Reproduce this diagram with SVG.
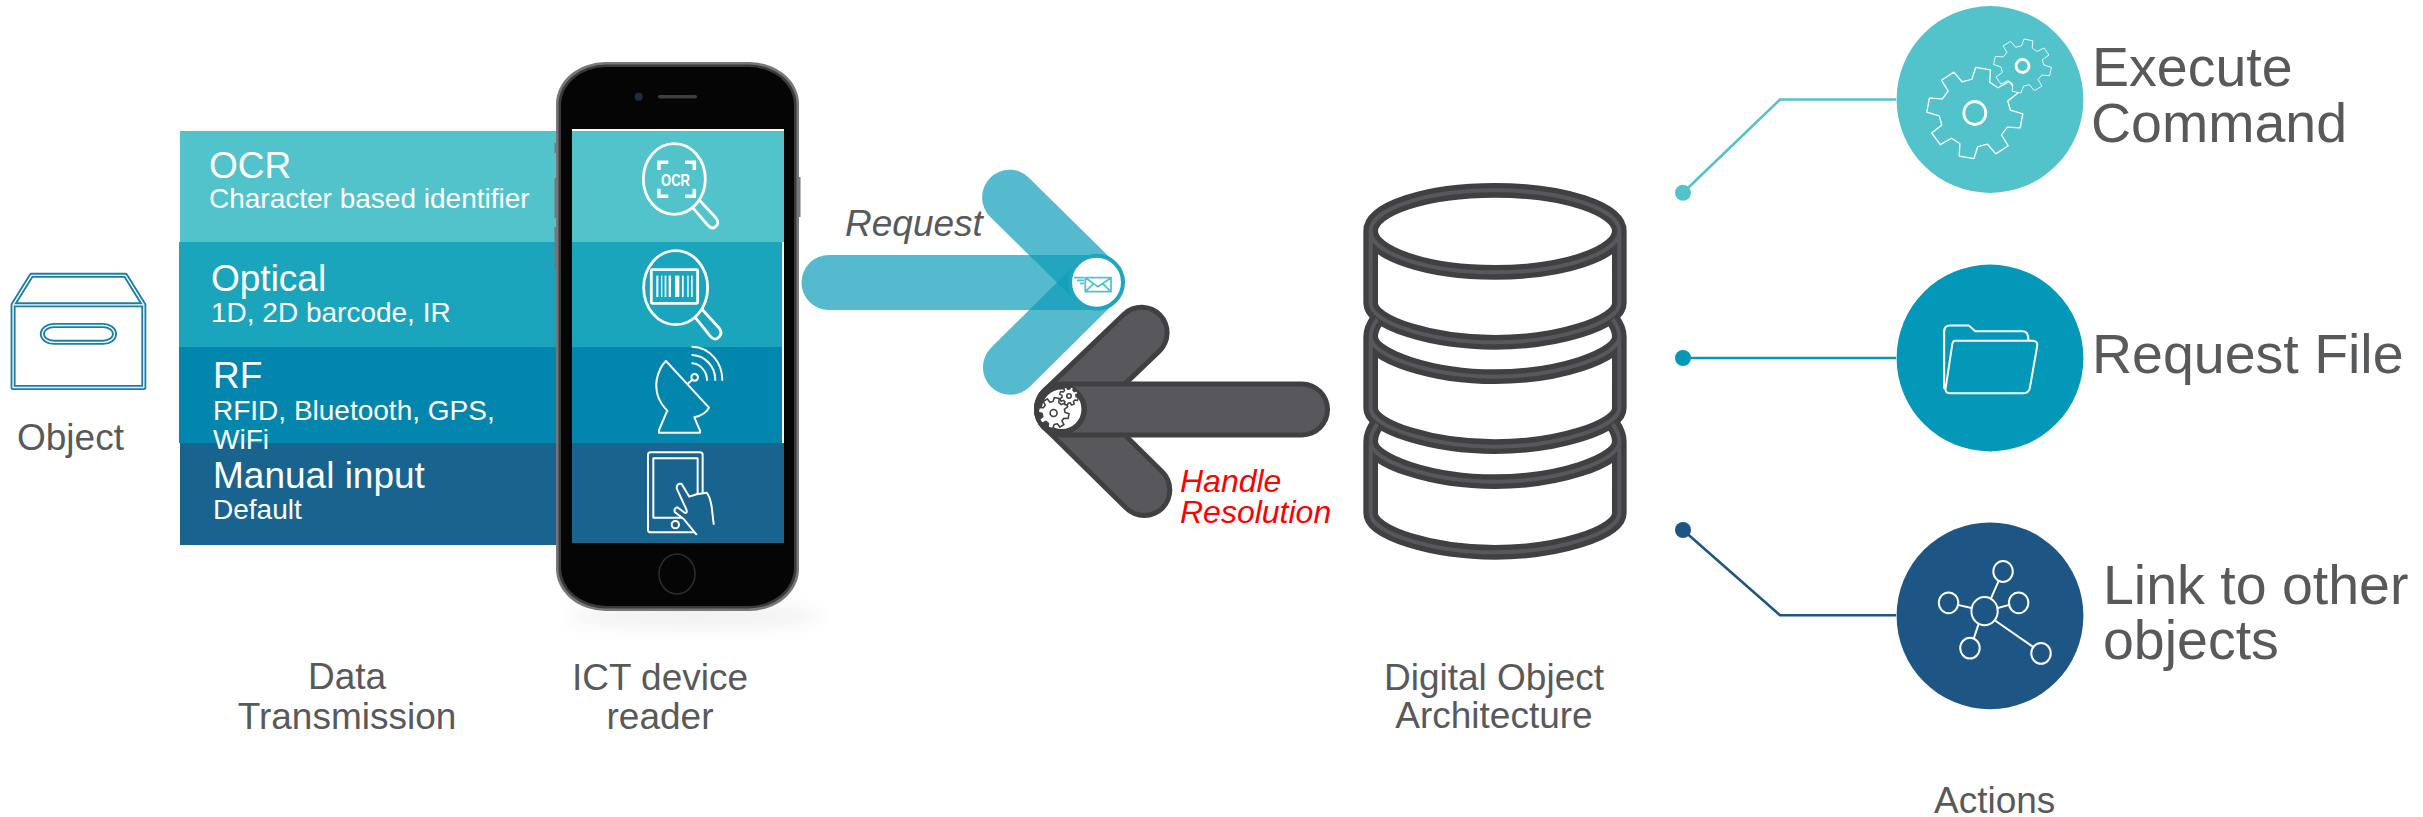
<svg xmlns="http://www.w3.org/2000/svg" width="2423" height="817" viewBox="0 0 2423 817">
<style>
text{font-family:"Liberation Sans",Arial,sans-serif}
.lbl{font-size:37px;fill:#58595b}
.mid{text-anchor:middle}
.big{font-size:55.5px;fill:#58595b}
.h{font-size:37px;fill:#fff}
.s{font-size:28px;fill:#fff}
.ic{fill:none;stroke:#fff;stroke-width:2;vector-effect:non-scaling-stroke;stroke-linejoin:round;stroke-linecap:round}
.ic2{stroke-width:2.8}
.blue{fill:none;stroke:#0e9cb9;stroke-opacity:.7;stroke-width:55;stroke-linecap:round}
.gd{fill:none;stroke:#404043;stroke-width:56;stroke-linecap:round}
.gf{fill:none;stroke:#58585c;stroke-width:46;stroke-linecap:round}
.dbd{fill:none;stroke:#404043;stroke-width:44;stroke-linejoin:round}
.dbl{fill:none;stroke:#58585c;stroke-width:12;stroke-linejoin:round}
</style>
<defs>
<path id="gear" d="M72,-18.9L98.8,-15.6L98.8,15.6L72,18.9L63,38L80.9,58.8L58.8,80.9L38,63L18.9,72L15.6,98.8L-15.6,98.8L-18.9,72L-38,63L-58.8,80.9L-80.9,58.8L-63,38L-72,18.9L-98.8,15.6L-98.8,-15.6L-72,-18.9L-63,-38L-80.9,-58.8L-58.8,-80.9L-38,-63L-18.9,-72L-15.6,-98.8L15.6,-98.8L18.9,-72L38,-63L58.8,-80.9L80.9,-58.8L63,-38Z"/>
<path id="db" transform="translate(1340,150) scale(.3333)" d="M465,121C260,121 92,176 92,243C92,310 260,367 465,367C670,367 838,310 838,243C838,176 670,121 465,121ZM92,243V460C92,520 280,577 465,577C650,577 838,520 838,460V243M112,508C97,528 92,545 92,560C92,620 280,680 465,680C650,680 838,620 838,560C838,545 833,528 818,508M92,560V775C92,832 280,890 465,890C650,890 838,832 838,775V560M112,822C97,842 92,860 92,875C92,935 280,995 465,995C650,995 838,935 838,875C838,860 833,842 818,822M92,875V1090C92,1150 280,1207 465,1207C650,1207 838,1150 838,1090V875"/>
<filter id="soft" x="-30%" y="-200%" width="160%" height="500%"><feGaussianBlur stdDeviation="10"/></filter>
</defs>
<rect width="2423" height="817" fill="#fff"/>

<g id="connectors">
<path d="M1896,99.5H1780L1683,192.8" fill="none" stroke="#52c3cb" stroke-width="2.6"/>
<circle cx="1683" cy="192.8" r="8" fill="#52c3cb"/>
<path d="M1896,358H1683" fill="none" stroke="#0398b8" stroke-width="2.6"/>
<circle cx="1683" cy="358" r="8" fill="#0398b8"/>
<path d="M1896,615.3H1780L1683,530" fill="none" stroke="#1d5585" stroke-width="2.6"/>
<circle cx="1683" cy="530" r="8" fill="#1d5585"/>
</g>

<g id="object">
<g transform="translate(0,40) scale(.523,.3827)">
<path d="M25,692L60,615H240L275,692V908H25Z M25,692H275" fill="none" stroke="#1a7fa8" stroke-width="5" vector-effect="non-scaling-stroke" stroke-linejoin="round"/>
<path d="M25,692L60,615H240L275,692V908H25Z M25,692H275" fill="none" stroke="#fff" stroke-width="1.3" vector-effect="non-scaling-stroke" stroke-linejoin="round"/>
<rect x="81" y="746" width="138" height="44" rx="22" ry="22" fill="none" stroke="#1a7fa8" stroke-width="5" vector-effect="non-scaling-stroke"/>
<rect x="81" y="746" width="138" height="44" rx="22" ry="22" fill="none" stroke="#fff" stroke-width="1.3" vector-effect="non-scaling-stroke"/>
</g>
<text class="lbl" x="17" y="450">Object</text>
</g>

<g id="data-transmission">
<rect x="180" y="131" width="380" height="111" fill="#52c3cb"/>
<rect x="179" y="242" width="381" height="105" fill="#1ba5bd"/>
<rect x="179" y="347" width="381" height="96" fill="#0386ae"/>
<rect x="180" y="443" width="380" height="102" fill="#19638f"/>
<text class="h" x="209" y="178">OCR</text>
<text class="s" x="209" y="208">Character based identifier</text>
<text class="h" x="211" y="291">Optical</text>
<text class="s" x="211" y="322">1D, 2D barcode, IR</text>
<text class="h" x="213" y="388">RF</text>
<text class="s" x="213" y="420">RFID, Bluetooth, GPS,</text>
<text class="s" x="213" y="449">WiFi</text>
<text class="h" x="213" y="488">Manual input</text>
<text class="s" x="213" y="519">Default</text>
<text class="lbl mid" x="347" y="689">Data</text>
<text class="lbl mid" x="347" y="729">Transmission</text>
</g>

<g id="ict-reader">
<ellipse cx="695" cy="616" rx="130" ry="10" fill="#000" opacity=".07" filter="url(#soft)"/>
<g fill="#77777a">
<rect x="554.5" y="143" width="3" height="10"/>
<rect x="554.5" y="178" width="3" height="40"/>
<rect x="554.5" y="227" width="3" height="41"/>
<rect x="797.5" y="177" width="3" height="40"/>
</g>
<rect x="556" y="62" width="243" height="549" rx="50" ry="42" fill="#77777a"/>
<rect x="558.5" y="64.5" width="238" height="544" rx="48" ry="40" fill="#3a3a3c"/>
<rect x="561" y="67" width="233" height="539" rx="45" ry="38" fill="#050505"/>
<circle cx="638.7" cy="96.7" r="4" fill="#1f2a44"/>
<rect x="658" y="95" width="39" height="3.5" rx="1.7" fill="#3f3f41"/>
<ellipse cx="677" cy="574" rx="18" ry="20" fill="none" stroke="#2c2c2e" stroke-width="1.6"/>
<rect x="572" y="129" width="212" height="3" fill="#fff"/>
<rect x="572" y="131" width="212" height="111" fill="#52c3cb"/>
<rect x="572" y="242" width="210" height="105" fill="#1ba5bd"/>
<rect x="572" y="347" width="210" height="96" fill="#0386ae"/>
<rect x="782" y="242" width="2" height="201" fill="#fff"/>
<rect x="572" y="443" width="212" height="100" fill="#19638f"/>
<g transform="translate(560,60) scale(.3333)">
<ellipse class="ic ic2" cx="343" cy="357" rx="93" ry="106"/>
<path class="ic ic2" d="M400,445L443,495Q458,512 470,497Q478,487 468,474L418,420"/>
<path class="ic" style="stroke-width:3.5;stroke-linecap:butt;stroke-linejoin:miter" d="M297,330V307H325M375,307H403V330M297,386V409H325M375,409H403V386"/>
<text x="303" y="377" font-size="50" font-weight="700" fill="#fff" textLength="87" lengthAdjust="spacingAndGlyphs">OCR</text>
<ellipse class="ic ic2" cx="347" cy="683" rx="96" ry="111"/>
<path class="ic ic2" d="M408,775L450,828Q465,846 478,830Q488,818 478,805L428,750"/>
<rect class="ic ic2" x="274" y="629" width="139" height="101" rx="3"/>
<g fill="#fff"><rect x="289" y="647" width="6" height="64"/><rect x="303" y="647" width="4" height="64"/><rect x="314" y="647" width="5" height="64"/><rect x="326" y="647" width="7" height="64"/><rect x="345" y="647" width="13" height="64"/><rect x="366" y="647" width="5" height="64"/><rect x="382" y="647" width="4" height="64"/><rect x="393" y="647" width="5" height="64"/></g>
</g>
<g transform="translate(560,340) scale(.3333)">
<path class="ic" d="M318,63L447,203C440,218 420,228 403,232L420,272V278H297V270L322,212C295,185 285,155 290,120C295,95 305,75 318,63Z"/>
<circle class="ic" cx="404" cy="112" r="10"/>
<path class="ic" d="M385,130L397,119M397,70C422,72 441,95 441,120M397,45C436,47 466,80 466,120M397,20C450,22 487,68 487,120"/>
<rect class="ic" x="264" y="337" width="164" height="240" rx="8"/>
<rect class="ic" x="280" y="355" width="133" height="178"/>
<circle class="ic" cx="346" cy="554" r="11"/>
<path d="M412,585L372,538L345,517Q340,505 352,502L375,519Q383,520 379,508L350,445Q350,428 365,432L388,470L410,463L440,458Q450,470 455,500L461,552V590Z" fill="#19638f"/>
<path class="ic" d="M409,583L372,538L345,517Q340,505 352,502L375,519Q383,520 379,508L350,445Q350,428 365,432L388,470L410,463L440,458Q450,470 455,500L461,552"/>
</g>
<text class="lbl mid" x="660" y="690">ICT device</text>
<text class="lbl mid" x="660" y="729">reader</text>
</g>

<g id="request-arrow">
<path class="blue" d="M829,282.5H1096"/>
<path class="blue" d="M1009.6,197.3L1096,282.5"/>
<path class="blue" d="M1010.4,367.3L1096,282.5"/>
<circle cx="1096.5" cy="282.3" r="26.5" fill="#fff" stroke="#1fa5c0" stroke-width="4"/>
<g transform="translate(1020,240) scale(.3333)" fill="none" stroke="#52c3cb" stroke-width="1.8">
<path vector-effect="non-scaling-stroke" d="M196,113H273V155H196ZM196,113L234,140L273,113M196,155L222,130M273,155L247,130"/>
<path vector-effect="non-scaling-stroke" d="M162,113H192M171,121H192M180,130H192"/>
</g>
<text class="lbl" x="845" y="236" font-style="italic">Request</text>
</g>

<g id="resolution-arrow">
<path class="gd" d="M1141.6,332.7L1062,409"/>
<path class="gd" d="M1144.3,490L1062,409"/>
<path class="gf" d="M1141.6,332.7L1062,409"/>
<path class="gf" d="M1144.3,490L1062,409"/>
<path class="gd" d="M1062,409.5H1302"/>
<path class="gf" d="M1062,409.5H1302"/>
<circle cx="1061.7" cy="409.3" r="22.5" fill="#fff" stroke="#404043" stroke-width="5.5"/>
<g fill="#fff" stroke="#404043" stroke-width="1.6" stroke-linejoin="round">
<use href="#gear" transform="translate(1053.6,413) rotate(12) scale(.155)" style="stroke-width:10"/>
<circle cx="1053.6" cy="413" r="3.5"/>
<use href="#gear" transform="translate(1069,396) rotate(20) scale(.095)" style="stroke-width:16"/>
<circle cx="1069" cy="396" r="2.2"/>
</g>
<text x="1180" y="491.5" font-size="32" font-style="italic" fill="#ff0000">Handle</text>
<text x="1180" y="523" font-size="32" font-style="italic" fill="#ff0000">Resolution</text>
</g>

<g id="digital-object-architecture">
<use href="#db" class="dbd"/>
<use href="#db" class="dbl"/>
<text class="lbl mid" x="1494" y="690">Digital Object</text>
<text class="lbl mid" x="1494" y="728">Architecture</text>
</g>

<g id="execute-command">
<circle cx="1990" cy="99.5" r="93.4" fill="#52c3cb"/>
<g transform="translate(1974.8,113) scale(.48,.455) rotate(10)"><use href="#gear" class="ic ic2"/></g>
<ellipse class="ic ic2" cx="1974.8" cy="113" rx="11" ry="11.5"/>
<g transform="translate(2022.5,66) scale(.29,.27) rotate(12)"><use href="#gear" class="ic ic2" style="fill:#52c3cb"/></g>
<ellipse class="ic ic2" cx="2022.5" cy="66" rx="6.5" ry="6.5"/>
<text class="big" x="2092" y="86">Execute</text>
<text class="big" x="2091" y="141.5">Command</text>
</g>

<g id="request-file">
<circle cx="1990" cy="358" r="93.4" fill="#0398b8"/>
<g transform="translate(1660,0) scale(.4866,.521)">
<path class="ic" d="M584,745V637Q584,625 596,625H635L648,636H745Q757,636 757,652"/>
<path class="ic" d="M605,654H767Q777,655 775,665L760,745Q757,755 745,755H597Q585,755 587,745L600,665Q601,655 605,654Z"/>
</g>
<text class="big" x="2092" y="372.5">Request File</text>
</g>

<g id="link-objects">
<circle cx="1990" cy="615.8" r="93.4" fill="#1d5585"/>
<g transform="translate(1660,0) scale(.4866,.521)">
<circle class="ic" cx="667" cy="1173" r="27"/>
<circle class="ic" cx="705" cy="1097" r="20"/>
<circle class="ic" cx="737" cy="1157" r="20"/>
<circle class="ic" cx="593" cy="1157" r="20"/>
<circle class="ic" cx="637" cy="1244" r="20"/>
<circle class="ic" cx="783" cy="1254" r="20"/>
<path class="ic" d="M680,1149L696,1115M694,1167L718,1161M640,1167L612,1161M655,1197L645,1225M690,1192L766,1241"/>
</g>
<text class="big" x="2103" y="604">Link to other</text>
<text class="big" x="2103" y="659">objects</text>
</g>

<g id="actions"><text class="lbl" x="1934" y="813">Actions</text></g>
</svg>
